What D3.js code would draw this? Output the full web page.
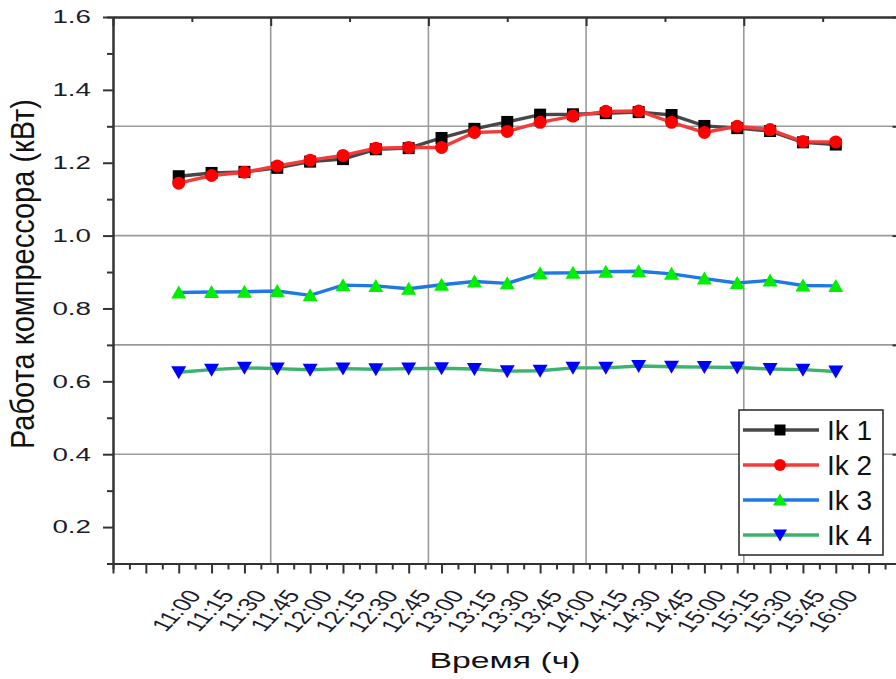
<!DOCTYPE html>
<html>
<head>
<meta charset="utf-8">
<script src="https://cdn.jsdelivr.net/npm/d3@7"></script>
<style>
  body { margin: 0; background: #fff; }
  svg { display: block; font-family: "Liberation Sans", Arial, sans-serif; }
</style>
</head>
<body>
<svg id="chart" width="896" height="679"></svg>
<script>
var width = 896,
    height = 679;

// time labels, one per 15 minutes
var times = ["11:00", "11:15", "11:30", "11:45", "12:00", "12:15", "12:30",
             "12:45", "13:00", "13:15", "13:30", "13:45", "14:00", "14:15",
             "14:30", "14:45", "15:00", "15:15", "15:30", "15:45", "16:00"];

var ik1 = [1.163, 1.172, 1.175, 1.186, 1.203, 1.210, 1.237, 1.240, 1.268, 1.293,
           1.312, 1.332, 1.333, 1.336, 1.339, 1.331, 1.301, 1.295, 1.287, 1.256, 1.250];
var ik2 = [1.144, 1.165, 1.174, 1.191, 1.207, 1.220, 1.240, 1.242, 1.242, 1.283,
           1.286, 1.311, 1.328, 1.341, 1.342, 1.311, 1.283, 1.300, 1.291, 1.258, 1.257];
var ik3 = [0.844, 0.845, 0.846, 0.848, 0.836, 0.864, 0.862, 0.854, 0.865, 0.874,
           0.869, 0.897, 0.898, 0.901, 0.902, 0.895, 0.882, 0.870, 0.877, 0.863, 0.862];
var ik4 = [0.625, 0.632, 0.637, 0.635, 0.632, 0.635, 0.633, 0.635, 0.636, 0.634,
           0.628, 0.629, 0.637, 0.637, 0.642, 0.640, 0.639, 0.638, 0.634, 0.632, 0.627];

var seriesNames = ["Ik 1", "Ik 2", "Ik 3", "Ik 4"];
var lineColors = ["#474747", "#f23c3c", "#1f78e4", "#3cb26e"];
var markerColors = ["#000000", "#ff0000", "#00ee00", "#0000ff"];
var markerShapes = ["square", "circle", "up", "down"];

var yTickValues = [0.2, 0.4, 0.6, 0.8, 1.0, 1.2, 1.4, 1.6];

var margin = {left: 113, top: 17, right: 901.5, bottom: 563.5};

var svg = d3.select("#chart");

var x = d3.scaleLinear().domain([-2, 22]).range([margin.left, margin.right]);
var y = d3.scaleLinear().domain([0.1, 1.6]).range([margin.bottom, margin.top]);
// second layer axes (top / right), only used for their ticks and grid
var xTop = d3.scaleLinear().domain([0, 5]).range([margin.left, margin.right]);
var yRight = d3.scaleLinear().domain([0, 5]).range([margin.bottom, margin.top]);

function markerPath(shape, s) {
  var p = d3.path();
  if (shape == "square") {
    p.rect(-s / 2, -s / 2, s, s);
  } else if (shape == "circle") {
    p.arc(0, 0, s / 2 + 0.5, 0, 2 * Math.PI);
  } else if (shape == "up") {
    p.moveTo(0, -s / 2 - 1); p.lineTo(s / 2 + 1.5, s / 2); p.lineTo(-s / 2 - 1.5, s / 2); p.closePath();
  } else {
    p.moveTo(0, s / 2 + 1); p.lineTo(s / 2 + 1.5, -s / 2); p.lineTo(-s / 2 - 1.5, -s / 2); p.closePath();
  }
  return p.toString();
}

// grid lines
var grid = svg.append("g").attr("class", "grid")
  .attr("stroke", "#9a9a9a").attr("stroke-width", 1.6);
grid.selectAll("line.v").data([1, 2, 3, 4]).enter().append("line")
  .attr("class", "v")
  .attr("x1", d => xTop(d)).attr("x2", d => xTop(d))
  .attr("y1", margin.top).attr("y2", margin.bottom);
grid.selectAll("line.h").data([1, 2, 3, 4]).enter().append("line")
  .attr("class", "h")
  .attr("y1", d => yRight(d)).attr("y2", d => yRight(d))
  .attr("x1", margin.left).attr("x2", margin.right);

// axes
function styleAxis(g) {
  g.select(".domain").attr("stroke", "#333").attr("stroke-width", 2);
  g.selectAll(".tick line").attr("stroke", "#333").attr("stroke-width", 2);
}

var xMajor = d3.range(-2, 23), xMinor = d3.range(-1.5, 22, 1);
svg.append("g").attr("transform", "translate(0," + margin.bottom + ")")
  .call(d3.axisBottom(x).tickValues(xMinor).tickSize(6).tickFormat(""))
  .call(styleAxis);
var xAxis = svg.append("g").attr("transform", "translate(0," + margin.bottom + ")")
  .call(d3.axisBottom(x).tickValues(xMajor).tickSize(10).tickSizeOuter(0)
    .tickFormat(d => (d >= 0 && d < times.length) ? times[d] : ""))
  .call(styleAxis);
xAxis.selectAll(".tick text")
  .attr("font-size", 18.5).attr("fill", "#1c1c2c")
  .attr("font-family", "Liberation Sans, Arial, sans-serif")
  .attr("text-anchor", "end")
  .attr("dy", null).attr("y", 0)
  .attr("transform", "translate(23,32) scale(1.45,1) rotate(-56)");

var yMinor = d3.range(0.1, 1.6, 0.2);
svg.append("g").attr("transform", "translate(" + margin.left + ",0)")
  .call(d3.axisLeft(y).tickValues(yMinor).tickSize(6).tickFormat(""))
  .call(styleAxis);
var yAxis = svg.append("g").attr("transform", "translate(" + margin.left + ",0)")
  .call(d3.axisLeft(y).tickValues(yTickValues).tickSize(10).tickSizeOuter(0)
    .tickFormat(d3.format(".1f")))
  .call(styleAxis);
yAxis.selectAll(".tick text")
  .attr("font-size", 18.5).attr("fill", "#1c1c2c")
  .attr("font-family", "Liberation Sans, Arial, sans-serif")
  .attr("x", 0)
  .attr("transform", "translate(-22,0) scale(1.5,1)");

svg.append("g").attr("transform", "translate(0," + margin.top + ")")
  .call(d3.axisBottom(xTop).tickValues(d3.range(0, 5.01, 1)).tickSize(9).tickSizeOuter(0).tickFormat(""))
  .call(styleAxis);
svg.append("g").attr("transform", "translate(0," + margin.top + ")")
  .call(d3.axisBottom(xTop).tickValues(d3.range(0.5, 5, 1)).tickSize(5).tickSizeOuter(0).tickFormat(""))
  .call(styleAxis);
svg.append("g").attr("transform", "translate(" + margin.right + ",0)")
  .call(d3.axisLeft(yRight).tickValues(d3.range(0, 5.01, 1)).tickSize(9).tickSizeOuter(0).tickFormat(""))
  .call(styleAxis);
svg.append("g").attr("transform", "translate(" + margin.right + ",0)")
  .call(d3.axisLeft(yRight).tickValues(d3.range(0.5, 5, 1)).tickSize(5).tickSizeOuter(0).tickFormat(""))
  .call(styleAxis);

// series
var allSeries = [ik1, ik2, ik3, ik4];
var line = d3.line().x((d, i) => x(i)).y(d => y(d));

allSeries.forEach(function(values, k) {
  var g = svg.append("g").attr("class", "series");
  g.append("path").datum(values)
    .attr("fill", "none")
    .attr("stroke", lineColors[k])
    .attr("stroke-width", 3.4)
    .attr("d", line);
  g.selectAll("path.marker").data(values).enter().append("path")
    .attr("class", "marker")
    .attr("transform", (d, i) => "translate(" + x(i) + "," + y(d) + ")")
    .attr("d", markerPath(markerShapes[k], 12))
    .attr("fill", markerColors[k]);
});

// axis titles
svg.append("text")
  .attr("transform", "translate(34,274) scale(1.16,1) rotate(-90)")
  .attr("text-anchor", "middle")
  .attr("font-size", 29)
  .attr("fill", "#111")
  .text("Работа компрессора (кВт)");
svg.append("text")
  .attr("transform", "translate(505,668) scale(1.5,1)")
  .attr("text-anchor", "middle")
  .attr("font-size", 22.5)
  .attr("fill", "#111")
  .text("Время (ч)");

// legend
var legend = svg.append("g").attr("transform", "translate(739,410)");
legend.append("rect")
  .attr("width", 144).attr("height", 145)
  .attr("fill", "#fff").attr("stroke", "#333").attr("stroke-width", 1.6);
seriesNames.forEach(function(name, k) {
  var row = legend.append("g").attr("transform", "translate(0," + (20 + k * 35) + ")");
  row.append("line")
    .attr("x1", 4).attr("x2", 80)
    .attr("stroke", lineColors[k]).attr("stroke-width", 3.4);
  row.append("path")
    .attr("transform", "translate(41,0)")
    .attr("d", markerPath(markerShapes[k], 11))
    .attr("fill", markerColors[k]);
  row.append("text")
    .attr("x", 88).attr("y", 10)
    .attr("font-size", 28)
    .attr("fill", "#111")
    .text(name);
});
</script>
</body>
</html>
